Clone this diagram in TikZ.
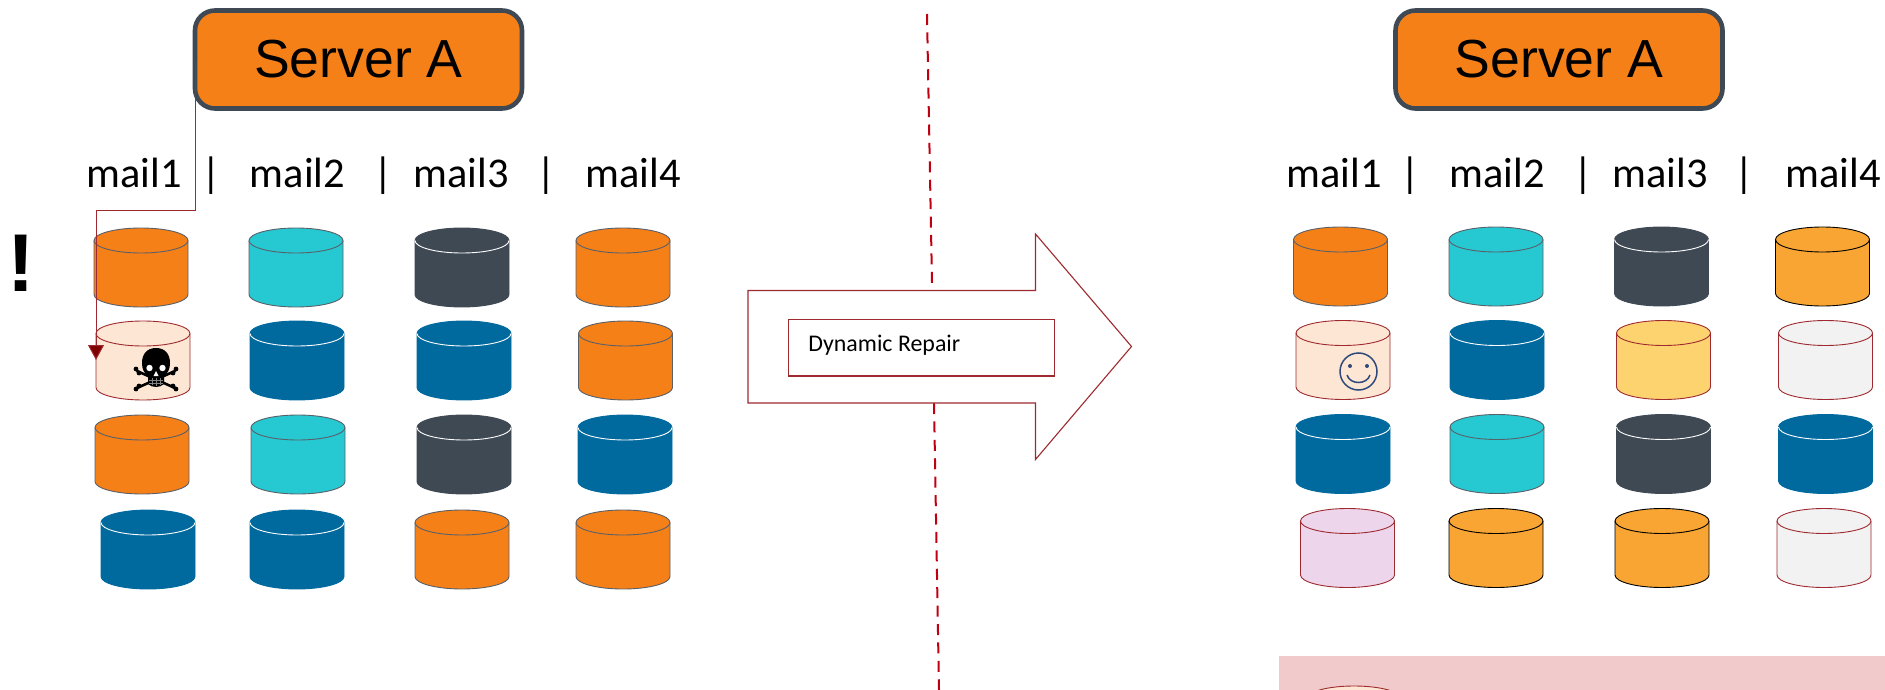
\documentclass[tikz,border=0pt]{standalone}
\usepackage{fontspec}
\setmainfont{Carlito}
\newfontfamily\arialf{Liberation Sans}
\usetikzlibrary{arrows.meta}
\definecolor{cOrange}{HTML}{F58018}
\definecolor{cTeal}{HTML}{26C9D2}
\definecolor{cDark}{HTML}{3F4954}
\definecolor{cBlue}{HTML}{00699E}
\definecolor{cPeach}{HTML}{FDE6D3}
\definecolor{cYellow}{HTML}{FDD36F}
\definecolor{cGrey}{HTML}{F2F2F2}
\definecolor{cLilac}{HTML}{EDD5EC}
\definecolor{cAmber}{HTML}{F9A533}
\definecolor{cPink}{HTML}{F1CACB}
\definecolor{cRed}{HTML}{9E2A2F}
\definecolor{cDash}{HTML}{C00010}
\definecolor{cTip}{HTML}{7F0000}
\definecolor{cEdge}{HTML}{5A6068}
\definecolor{cSmile}{HTML}{2F4A7A}
\tikzset{
  x=0.5pt,y=-0.5pt,
  serverbox/.style={draw=cDark,line width=2.3pt,fill=cOrange,rounded corners=10pt,minimum width=163.5pt,minimum height=49pt,inner sep=0pt,font=\arialf\fontsize{26.8}{30}\selectfont},
  maillabel/.style={anchor=base west,inner sep=0pt,font=\fontsize{21.2}{24}\selectfont},
  seplabel/.style={anchor=base,inner sep=0pt,font=\fontsize{21.2}{24}\selectfont},
  cylbox/.style={inner sep=0pt,minimum width=47pt,minimum height=39.5pt},
  redline/.style={draw=cRed,line width=0.5pt},
  dashline/.style={draw=cDash,line width=1pt,dash pattern=on 5.5pt off 3.71pt},
}
% name, left, top, fill, outer stroke, inner arc stroke
\newcommand{\cyl}[6]{%
  \node[cylbox] (#1) at (#2+47,#3+39.5) {};
  \begin{scope}[shift={(#2,#3)}]
    \path[fill=#4,draw=#5,line width=0.45pt] (0,12.5)
      arc[start angle=180,end angle=0,x radius=47,y radius=-12.5]
      -- (94,66.5)
      arc[start angle=0,end angle=-180,x radius=47,y radius=-12.5]
      -- cycle;
    \draw[#6,line width=0.45pt] (0,12.5)
      arc[start angle=180,end angle=360,x radius=47,y radius=-12.5];
  \end{scope}
}
\begin{document}
\begin{tikzpicture}
\useasboundingbox (0,0) rectangle (1885,690);
\clip (0,0) rectangle (1885,690);
% centre divider
\coordinate (dtop) at (927,14);
\coordinate (dmida) at (932,283);
\coordinate (dmidb) at (934,403);
\coordinate (dbot) at (939,690);
\draw[dashline] (dtop) -- (dmida);
\draw[dashline] (dmidb) -- (dbot);
% servers
\node[serverbox] (srvL) at (358.5,59.5) {Server A};
\node[serverbox] (srvR) at (1559,59.5) {Server A};
% labels left
\node[maillabel] (ml1) at (86,187) {mail1};
\node[maillabel] (ml2) at (249.5,187) {mail2};
\node[maillabel] (ml3) at (413,187) {mail3};
\node[maillabel] (ml4) at (585,187) {mail4};
\node[seplabel] (sl1) at (211,187) {|};
\node[seplabel] (sl2) at (383,187) {|};
\node[seplabel] (sl3) at (546,187) {|};
% labels right
\node[maillabel] (mr1) at (1286,187) {mail1};
\node[maillabel] (mr2) at (1449,187) {mail2};
\node[maillabel] (mr3) at (1612,187) {mail3};
\node[maillabel] (mr4) at (1785,187) {mail4};
\node[seplabel] (sr1) at (1410,187) {|};
\node[seplabel] (sr2) at (1583,187) {|};
\node[seplabel] (sr3) at (1744,187) {|};
% exclamation
\node[inner sep=0pt,font=\arialf\bfseries\fontsize{41}{44}\selectfont] (bang) at (21.5,263) {!};
% left cylinders
\cyl{a1}{94}{228}{cOrange}{cEdge}{cEdge}
\cyl{a2}{249}{228}{cTeal}{cEdge}{cEdge}
\cyl{a3}{415}{228}{cDark}{cDark}{white}
\cyl{a4}{576}{228}{cOrange}{cEdge}{cEdge}
\cyl{b1}{96}{321}{cPeach}{cRed}{cRed}
\cyl{b2}{250}{321}{cBlue}{cBlue}{white}
\cyl{b3}{417}{321}{cBlue}{cBlue}{white}
\cyl{b4}{578.5}{321}{cOrange}{cEdge}{cEdge}
\cyl{c1}{95}{415}{cOrange}{cEdge}{cEdge}
\cyl{c2}{251}{415}{cTeal}{cEdge}{cEdge}
\cyl{c3}{417}{415}{cDark}{cDark}{white}
\cyl{c4}{578}{415}{cBlue}{cBlue}{white}
\cyl{d1}{101}{510}{cBlue}{cBlue}{white}
\cyl{d2}{250}{510}{cBlue}{cBlue}{white}
\cyl{d3}{415}{510}{cOrange}{cEdge}{cEdge}
\cyl{d4}{576}{510}{cOrange}{cEdge}{cEdge}
% right cylinders
\cyl{e1}{1293.5}{227}{cOrange}{cEdge}{cEdge}
\cyl{e2}{1449}{227}{cTeal}{cEdge}{cEdge}
\cyl{e3}{1614.5}{227}{cDark}{cDark}{white}
\cyl{e4}{1775.5}{227}{cAmber}{black}{black}
\cyl{f1}{1296}{320.5}{cPeach}{cRed}{cRed}
\cyl{f2}{1450}{320.5}{cBlue}{cBlue}{white}
\cyl{f3}{1616.5}{320.5}{cYellow}{cRed}{cRed}
\cyl{f4}{1778.5}{320.5}{cGrey}{cRed}{cRed}
\cyl{g1}{1296}{414.5}{cBlue}{cBlue}{white}
\cyl{g2}{1450}{414.5}{cTeal}{cEdge}{cEdge}
\cyl{g3}{1616.5}{414.5}{cDark}{cDark}{white}
\cyl{g4}{1778.5}{414.5}{cBlue}{cBlue}{white}
\cyl{h1}{1300.5}{508.5}{cLilac}{cRed}{cRed}
\cyl{h2}{1449}{508.5}{cAmber}{black}{black}
\cyl{h3}{1615}{508.5}{cAmber}{black}{black}
\cyl{h4}{1777}{508.5}{cGrey}{cRed}{cRed}
% skull and crossbones
\draw[black,line width=1.3pt,line cap=round] (137,371) -- (175,388) (175,371) -- (137,388);
\fill[black] (136,369) circle[radius=2.4] (139,373) circle[radius=2.4]
  (176,369) circle[radius=2.4] (173,373) circle[radius=2.4]
  (136,389) circle[radius=2.4] (139,386) circle[radius=2.4]
  (176,389) circle[radius=2.4] (173,386) circle[radius=2.4];
\fill[black] (156,348) .. controls (147,348) and (142,354) .. (142,363)
  .. controls (142,369) and (144,373) .. (148,376) -- (148,384)
  .. controls (152,388) and (160,388) .. (164,384) -- (164,376)
  .. controls (168,373) and (170,369) .. (170,363)
  .. controls (170,354) and (165,348) .. (156,348) -- cycle;
\fill[white] (149.5,368) circle[radius=3.2] (162.5,368) circle[radius=3.2];
\fill[white] (156,371) -- (153.5,376) -- (158.5,376) -- cycle;
\draw[gray,line width=0.35pt] (149,380) -- (163,380) (149,383) -- (163,383) (152,378) -- (152,385) (156,378) -- (156,386) (160,378) -- (160,385);
% smiley
\draw[cSmile,line width=0.75pt] (1358.5,371.5) circle[radius=18.5];
\fill[cSmile] (1350,366) circle[radius=2] (1367,366) circle[radius=2];
\draw[cSmile,line width=0.75pt] (1347,375) .. controls (1350,385) and (1367,385) .. (1370,375);
% failure connector
\coordinate (srvLexit) at (195,60);
\coordinate (bend1) at (195,210);
\coordinate (bend2) at (96,210);
\coordinate (hit) at (96,360);
\draw[redline,-{Triangle[length=7.5pt,width=8pt,fill=cTip]}] (srvLexit) -- (bend1) -- (bend2) -- (hit);
% block arrow
\path[fill=white,draw=cRed,line width=0.55pt] (748,290.5) -- (1035.5,290.5) -- (1035.5,234) -- (1131.5,346.5) -- (1035.5,459.5) -- (1035.5,403) -- (748,403) -- cycle;
\node[draw=cRed,line width=0.55pt,fill=white,minimum width=133pt,minimum height=28.3pt,inner sep=0pt] (repairbox) at (921.3,347.7) {};
\node[anchor=west,inner sep=0pt,font=\fontsize{11.95}{14}\selectfont] (repair) at (808,345.5) {Dynamic Repair};
% bottom panel
\fill[cPink] (1279,656) rectangle (1885,690);
\cyl{k1}{1307}{686}{cPeach}{cRed}{cRed}
\end{tikzpicture}
\end{document}
